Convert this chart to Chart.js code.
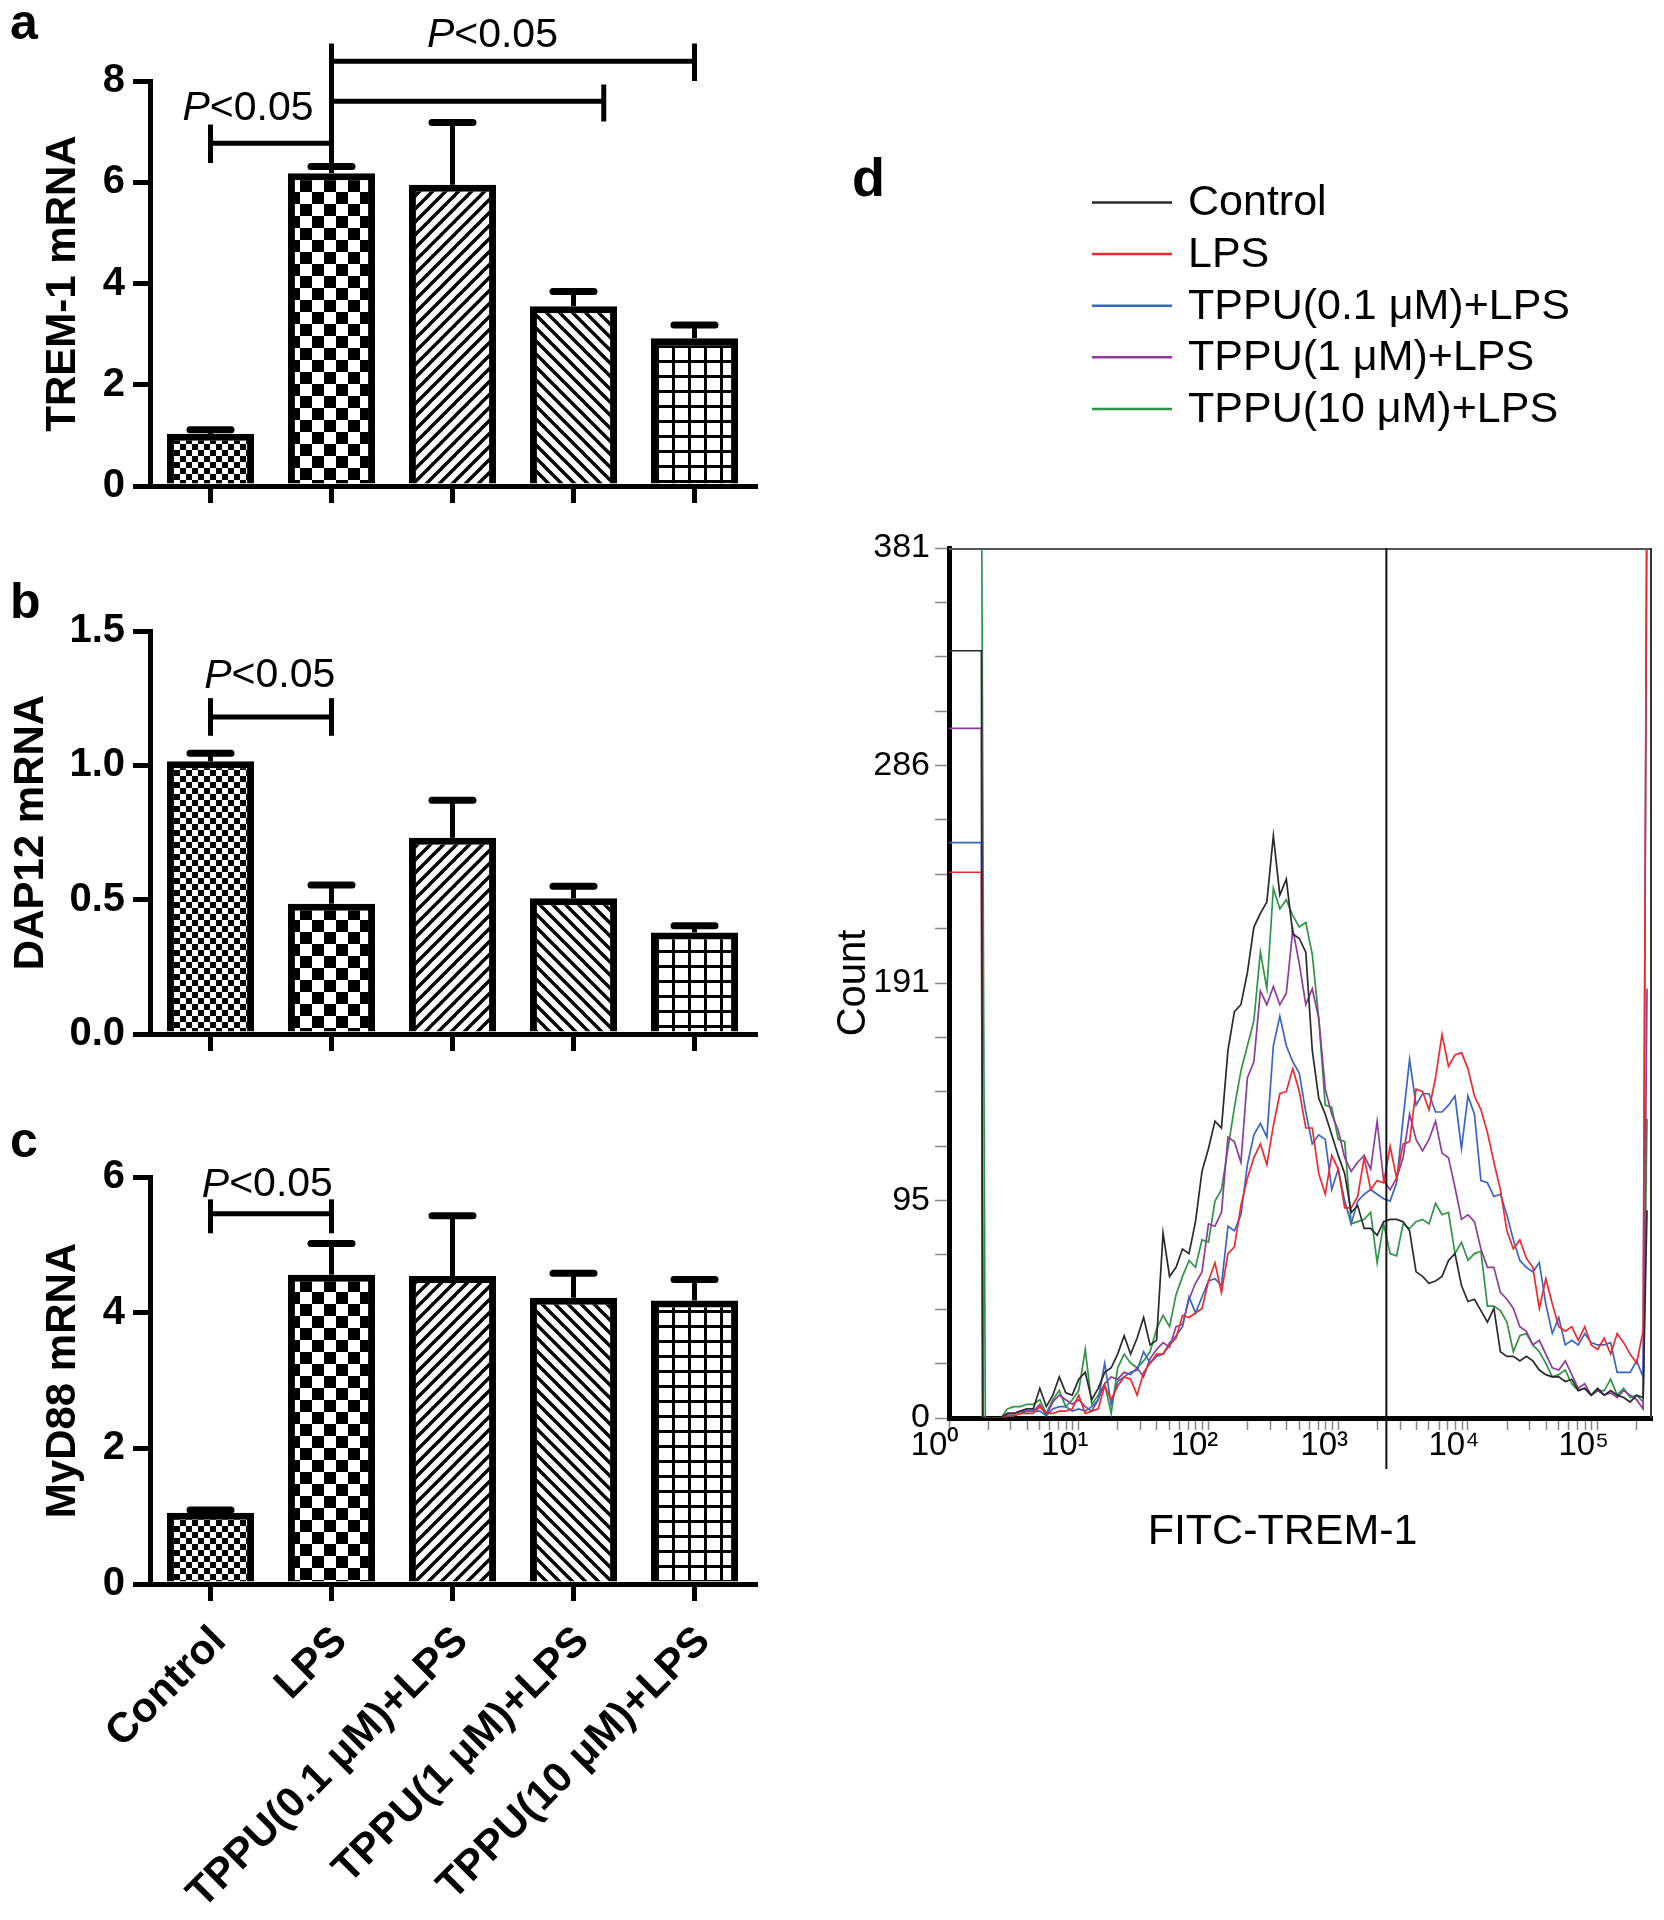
<!DOCTYPE html>
<html><head><meta charset="utf-8">
<script src="https://cdn.jsdelivr.net/npm/chart.js@4.4.1/dist/chart.umd.min.js"></script>
<style>
html,body{margin:0;padding:0;background:#fff;}
body{width:1664px;height:1920px;position:relative;overflow:hidden;}
canvas{position:absolute;}
</style></head><body>
<canvas id="ca" width="780" height="540" style="left:0;top:0;width:780px;height:540px"></canvas>
<canvas id="cb" width="780" height="520" style="left:0;top:560px;width:780px;height:520px"></canvas>
<canvas id="cc" width="780" height="820" style="left:0;top:1100px;width:780px;height:820px"></canvas>
<canvas id="cd" width="834" height="1480" style="left:830px;top:100px;width:834px;height:1480px"></canvas>
<script>
// ---------------- DATA ----------------
const groups = ['Control', 'LPS', 'TPPU(0.1 μM)+LPS', 'TPPU(1 μM)+LPS', 'TPPU(10 μM)+LPS'];

const trem1Mean = [1.03, 6.18, 5.95, 3.55, 2.92];
const trem1Err  = [0.08, 0.13, 1.23, 0.29, 0.26];
const trem1Ticks = [0, 2, 4, 6, 8];

const dap12Mean = [1.015, 0.485, 0.73, 0.505, 0.378];
const dap12Err  = [0.03, 0.07, 0.14, 0.045, 0.025];
const dap12Ticks = [0, 0.5, 1.0, 1.5];

const myd88Mean = [1.05, 4.56, 4.54, 4.22, 4.18];
const myd88Err  = [0.04, 0.46, 0.89, 0.36, 0.31];
const myd88Ticks = [0, 2, 4, 6];

// significance brackets: [xFrom, yFrom, xTo, yTo] in (category index, value) units
const trem1Brackets = [[0,6.77,1,6.77],[0,6.38,0,7.14],[1,7.6,3.25,7.6],[3.25,7.2,3.25,7.93],[1,8.39,4,8.39],[4,8.0,4,8.74],[1,6.31,1,8.74]];
const trem1PLabels = [[0.31,7.45],[2.33,8.9]];
const dap12Brackets = [[0,1.18,1,1.18],[0,1.11,0,1.25],[1,1.11,1,1.25]];
const dap12PLabels = [[0.49,1.332]];
const myd88Brackets = [[0,5.46,1,5.46],[0,5.17,0,5.67],[1,5.17,1,5.67]];
const myd88PLabels = [[0.47,5.88]];

// flow cytometry histogram (d): FITC intensity as log10 exponent, counts per series
const fitcExponent = [0, 0.25, 0.26, 0.28,
  0.40,0.45,0.50,0.55,0.60,0.65,0.70,0.75,0.80,0.85,
  0.90,0.95,1.00,1.05,1.10,1.15,1.20,1.25,1.30,1.35,
  1.40,1.45,1.50,1.55,1.60,1.65,1.70,1.75,1.80,1.85,
  1.90,1.95,2.00,2.05,2.10,2.15,2.20,2.25,2.30,2.35,
  2.40,2.45,2.50,2.55,2.60,2.65,2.70,2.75,2.80,2.85,
  2.90,2.95,3.00,3.05,3.10,3.15,3.20,3.25,3.30,3.35,
  3.40,3.45,3.50,3.55,3.60,3.65,3.70,3.75,3.80,3.85,
  3.90,3.95,4.00,4.05,4.10,4.15,4.20,4.25,4.30,4.35,
  4.40,4.45,4.50,4.55,4.60,4.65,4.70,4.75,4.80,4.85,
  4.90,4.95,5.00,5.05,5.10,5.15,5.20,5.25,5.30,5.35,
  5.38];
const countControl = [336,336,0,0,
  0,2,2,3,4,4,13,5,10,18,
  11,10,17,20,8,13,20,22,28,36,
  28,35,44,32,34,81,62,66,74,72,
  86,108,118,130,127,161,178,181,195,215,
  221,226,255,229,236,212,210,204,161,140,
  133,124,115,107,90,93,83,83,80,86,
  87,87,86,82,64,62,59,60,62,69,
  72,58,51,52,47,42,48,29,27,27,
  25,27,25,21,19,18,18,16,17,12,
  13,10,13,10,12,10,9,7,10,9,
  91];
const countLPS = [239,239,0,0,
  0,1,1,2,2,2,5,2,2,3,
  3,4,10,2,3,4,14,8,14,18,
  17,10,20,24,28,28,32,35,45,44,
  46,48,60,68,55,72,75,93,105,114,
  120,111,128,142,143,153,143,127,127,107,
  98,115,109,92,92,97,114,100,104,103,
  119,105,120,121,144,143,135,149,168,154,
  159,160,153,141,135,125,112,100,82,74,
  78,70,66,48,61,50,40,38,40,34,
  40,32,30,35,28,37,33,28,24,38,
  420];
const countTPPU01 = [252,252,0,0,
  0,1,1,2,3,3,3,1,4,5,
  5,3,4,3,5,8,24,6,16,18,
  20,21,29,24,27,28,33,36,40,53,
  46,53,60,61,58,84,82,89,111,124,
  129,123,163,176,163,156,151,134,120,124,
  122,100,109,95,85,95,98,100,98,96,
  95,103,131,157,137,142,142,134,134,137,
  141,118,141,133,104,103,97,98,89,78,
  69,66,64,68,50,37,44,32,34,32,
  37,33,32,32,33,20,20,20,25,18,
  420];
const countTPPU1 = [302,302,0,0,
  0,2,2,3,3,3,6,1,7,10,
  8,6,8,5,3,8,15,18,17,20,
  19,22,18,26,30,33,31,40,41,52,
  59,64,85,84,90,123,121,112,149,156,
  187,181,189,181,186,214,199,181,188,175,
  144,133,126,114,108,112,115,109,130,104,
  100,105,114,133,122,117,122,130,116,114,
  101,87,89,86,74,66,66,55,52,48,
  40,38,32,34,28,22,21,25,19,13,
  15,10,12,10,11,9,12,10,8,4,
  188];
const countTPPU10 = [420,420,280,0,
  0,4,5,5,6,6,8,2,8,12,
  5,8,12,30,6,10,15,2,22,28,
  24,22,25,29,39,45,40,54,62,69,
  66,78,77,95,100,118,136,152,163,174,
  204,188,232,223,227,220,215,217,203,175,
  137,136,122,121,85,86,87,90,68,85,
  72,71,85,83,86,87,85,94,89,90,
  72,77,69,72,73,49,49,47,42,29,
  36,37,32,29,24,18,19,21,15,12,
  13,10,12,12,17,10,13,9,10,7,
  131];
const countTickLabels = ['0', '95', '191', '286', '381'];
const countMax = 381;
const fitcMax = 262144;
const fitcDecadeLabels = ['10⁰', '10¹', '10²', '10³', '10⁴', '10⁵'];
const gateFitc = 2350;
const seriesColors = ['#2a2a2a', '#ee2a2e', '#3a66c2', '#8d3c9e', '#2f9448'];

// ---------------- HELPERS ----------------
const FONT = "'Liberation Sans', Arial, Helvetica, sans-serif";
Chart.defaults.font.family = FONT;
Chart.defaults.color = '#000';

function makePattern(kind) {
  const c = document.createElement('canvas');
  const g = c.getContext('2d');
  if (kind === 'fine') {
    c.width = c.height = 12;
    g.fillStyle = '#fff'; g.fillRect(0,0,12,12);
    g.fillStyle = '#000'; g.fillRect(0,0,6,6); g.fillRect(6,6,6,6);
  } else if (kind === 'checker') {
    c.width = c.height = 24;
    g.fillStyle = '#fff'; g.fillRect(0,0,24,24);
    g.fillStyle = '#000'; g.fillRect(0,0,12,12); g.fillRect(12,12,12,12);
  } else if (kind === 'up' || kind === 'down') {
    const s = 13; c.width = c.height = s;
    g.fillStyle = '#fff'; g.fillRect(0,0,s,s);
    g.strokeStyle = '#000'; g.lineWidth = 3.4;
    for (let k = -1; k <= 1; k++) {
      g.beginPath();
      if (kind === 'up') { g.moveTo(k*s - 2, s + 2); g.lineTo(k*s + s + 2, -2); }
      else { g.moveTo(k*s - 2, -2); g.lineTo(k*s + s + 2, s + 2); }
      g.stroke();
    }
  } else if (kind === 'grid') {
    c.width = 16; c.height = 15;
    g.fillStyle = '#fff'; g.fillRect(0,0,16,15);
    g.fillStyle = '#000'; g.fillRect(0,0,3,15); g.fillRect(0,0,16,3);
  }
  return g.createPattern(c, 'repeat');
}
const barPatterns = ['fine', 'checker', 'up', 'down', 'grid'].map(makePattern);

function drawPText(ctx, cx, cy, size) {
  const it = 'italic ' + size + 'px ' + FONT, rg = size + 'px ' + FONT;
  ctx.font = it; const wP = ctx.measureText('P').width;
  ctx.font = rg; const wR = ctx.measureText('<0.05').width;
  const x0 = cx - (wP + wR) / 2;
  ctx.fillStyle = '#000'; ctx.textBaseline = 'middle'; ctx.textAlign = 'left';
  ctx.font = it; ctx.fillText('P', x0, cy);
  ctx.font = rg; ctx.fillText('<0.05', x0 + wP, cy);
}

function letterPlugin(text, x, y, size) {
  return { id: 'panelLetter', afterDraw(chart) {
    const ctx = chart.ctx; ctx.save();
    ctx.font = 'bold ' + size + 'px ' + FONT; ctx.fillStyle = '#000';
    ctx.textAlign = 'left'; ctx.textBaseline = 'alphabetic';
    ctx.fillText(text, x, y); ctx.restore();
  }};
}

function errorBarPlugin(mean, err) {
  return { id: 'errorBars', afterDatasetsDraw(chart) {
    const {ctx, scales: {y}} = chart;
    const meta = chart.getDatasetMeta(0);
    ctx.save(); ctx.strokeStyle = '#000';
    mean.forEach((m, i) => {
      const px = meta.data[i].x;
      const top = y.getPixelForValue(m), cap = y.getPixelForValue(m + err[i]);
      ctx.lineWidth = 5; ctx.lineCap = 'butt';
      ctx.beginPath(); ctx.moveTo(px, top); ctx.lineTo(px, cap); ctx.stroke();
      ctx.lineWidth = 7; ctx.lineCap = 'round';
      ctx.beginPath(); ctx.moveTo(px - 20.5, cap); ctx.lineTo(px + 20.5, cap); ctx.stroke();
    });
    ctx.restore();
  }};
}

function bracketPlugin(segments, labels) {
  return { id: 'brackets', afterDatasetsDraw(chart) {
    const {ctx, scales: {x, y}} = chart;
    ctx.save(); ctx.strokeStyle = '#000'; ctx.lineWidth = 5; ctx.lineCap = 'butt';
    segments.forEach(s => {
      ctx.beginPath();
      ctx.moveTo(x.getPixelForValue(s[0]), y.getPixelForValue(s[1]));
      ctx.lineTo(x.getPixelForValue(s[2]), y.getPixelForValue(s[3]));
      ctx.stroke();
    });
    labels.forEach(l => drawPText(ctx, x.getPixelForValue(l[0]), y.getPixelForValue(l[1]), 41));
    ctx.restore();
  }};
}

function barChart(id, cfg) {
  return new Chart(document.getElementById(id), {
    type: 'bar',
    data: { labels: groups, datasets: [{
      data: cfg.mean, backgroundColor: barPatterns, borderColor: '#000', borderWidth: 7,
      borderSkipped: 'start', barPercentage: 0.72, categoryPercentage: 1
    }]},
    options: {
      responsive: false, animation: false, devicePixelRatio: 1,
      layout: { padding: { top: cfg.top, right: 25, left: 0, bottom: 0 } },
      plugins: { legend: { display: false }, tooltip: { enabled: false } },
      scales: {
        x: {
          grid: { display: true, drawOnChartArea: false, offset: false, drawTicks: true, tickLength: 17, tickWidth: 5, tickColor: '#000', lineWidth: 5, color: '#000' },
          border: { display: true, color: '#000', width: 5 },
          ticks: cfg.showLabels
            ? { display: true, autoSkip: false, minRotation: 45, maxRotation: 45, padding: 16, labelOffset: 9, font: { size: 42, weight: 'bold' } }
            : { display: false },
          afterFit(s) { s.height = cfg.xh; }
        },
        y: {
          min: 0, max: cfg.ticks[cfg.ticks.length - 1],
          afterBuildTicks(s) { s.ticks = cfg.ticks.map(v => ({ value: v })); },
          ticks: { font: { size: 40, weight: 'bold' }, padding: 8, callback: cfg.fmt },
          grid: { display: true, drawOnChartArea: false, drawTicks: true, tickLength: 17, tickWidth: 5, tickColor: '#000', lineWidth: 5, color: '#000' },
          border: { display: true, color: '#000', width: 5 },
          title: { display: true, text: cfg.title, font: { size: 42, weight: 'bold' }, padding: { top: cfg.titlePad, bottom: 0 } },
          afterFit(s) { s.width = 150; }
        }
      }
    },
    plugins: [errorBarPlugin(cfg.mean, cfg.err), bracketPlugin(cfg.brackets, cfg.plabels), letterPlugin(cfg.letter, 10, cfg.letterY, 50)]
  });
}

barChart('ca', { mean: trem1Mean, err: trem1Err, ticks: trem1Ticks, fmt: v => String(v), title: 'TREM-1 mRNA',
  top: 81, xh: 54, titlePad: 38, brackets: trem1Brackets, plabels: trem1PLabels, letter: 'a', letterY: 39, showLabels: false });
barChart('cb', { mean: dap12Mean, err: dap12Err, ticks: dap12Ticks, fmt: v => Number(v).toFixed(1), title: 'DAP12 mRNA',
  top: 71, xh: 46, titlePad: 6, brackets: dap12Brackets, plabels: dap12PLabels, letter: 'b', letterY: 58, showLabels: false });
barChart('cc', { mean: myd88Mean, err: myd88Err, ticks: myd88Ticks, fmt: v => String(v), title: 'MyD88 mRNA',
  top: 77, xh: 336, titlePad: 38, brackets: myd88Brackets, plabels: myd88PLabels, letter: 'c', letterY: 57, showLabels: true });

// ---------------- PANEL D ----------------
const countSeries = [countControl, countLPS, countTPPU01, countTPPU1, countTPPU10];
const flowDecor = { id: 'flowDecor', afterDatasetsDraw(chart) {
  const {ctx, chartArea: a, scales: {x}} = chart;
  ctx.save();
  ctx.strokeStyle = '#555'; ctx.lineWidth = 2;
  ctx.beginPath(); ctx.moveTo(a.left, a.top + 1); ctx.lineTo(a.right, a.top + 1); ctx.stroke();
  ctx.strokeStyle = '#333';
  ctx.beginPath(); ctx.moveTo(a.right - 1, a.top); ctx.lineTo(a.right - 1, a.bottom); ctx.stroke();
  const gx = x.getPixelForValue(gateFitc);
  ctx.strokeStyle = '#111'; ctx.lineWidth = 2;
  ctx.beginPath(); ctx.moveTo(gx, a.top); ctx.lineTo(gx, a.bottom + 51); ctx.stroke();
  // legend
  ctx.font = '43px ' + FONT; ctx.textBaseline = 'middle'; ctx.textAlign = 'left'; ctx.fillStyle = '#000';
  groups.forEach((g, i) => {
    const yy = 102.5 + i * 51.6;
    ctx.strokeStyle = seriesColors[i]; ctx.lineWidth = 2.5;
    ctx.beginPath(); ctx.moveTo(262, yy); ctx.lineTo(342, yy); ctx.stroke();
    ctx.fillText(g, 358, yy + 1);
  });
  ctx.restore();
}};

new Chart(document.getElementById('cd'), {
  type: 'line',
  data: { datasets: countSeries.map((arr, si) => ({
    label: groups[si],
    data: arr.map((c, i) => ({ x: Math.pow(10, fitcExponent[i]), y: c })),
    borderColor: seriesColors[si], borderWidth: 1.7, pointRadius: 0, tension: 0, fill: false
  }))},
  options: {
    responsive: false, animation: false, devicePixelRatio: 1,
    layout: { padding: { top: 448, right: 12, left: 0, bottom: 0 } },
    plugins: { legend: { display: false }, tooltip: { enabled: false } },
    scales: {
      x: {
        type: 'logarithmic', min: 1, max: fitcMax,
        afterBuildTicks(s) {
          const t = [];
          for (let d = 0; d <= 5; d++) for (let k = 1; k <= 9; k++) { const v = k * Math.pow(10, d); if (v < fitcMax) t.push({ value: v, major: k === 1 }); }
          s.ticks = t;
        },
        ticks: { autoSkip: false, maxRotation: 0, minRotation: 0, padding: -4, labelOffset: -14, font: { size: 33 },
          callback(v) { const e = Math.log10(v); return Math.abs(e - Math.round(e)) < 1e-9 ? fitcDecadeLabels[Math.round(e)] : ''; } },
        grid: { display: true, drawOnChartArea: false, drawTicks: true, tickLength: 12, tickWidth: 1.5, tickColor: '#888' },
        border: { display: true, color: '#000', width: 5 },
        title: { display: true, text: 'FITC-TREM-1\u00a0\u00a0\u00a0', font: { size: 43 }, padding: { top: 0, bottom: 22 } },
        afterFit(s) { s.height = 162; }
      },
      y: {
        min: 0, max: countMax,
        afterBuildTicks(s) { const t = []; for (let k = 0; k <= 16; k++) t.push({ value: countMax * k / 16 }); s.ticks = t; },
        ticks: { autoSkip: false, padding: 5, font: { size: 34 },
          callback(v, i) { return i % 4 === 0 ? countTickLabels[i / 4] : ''; } },
        grid: { display: true, drawOnChartArea: false, drawTicks: true, tickLength: 14, tickWidth: 1.5, tickColor: '#888' },
        border: { display: true, color: '#000', width: 5 },
        title: { display: true, text: 'Count', font: { size: 40 }, padding: { top: 0, bottom: 0 } },
        afterFit(s) { s.width = 119; }
      }
    }
  },
  plugins: [flowDecor, letterPlugin('d', 22, 96, 54)]
});
</script>
</body></html>
